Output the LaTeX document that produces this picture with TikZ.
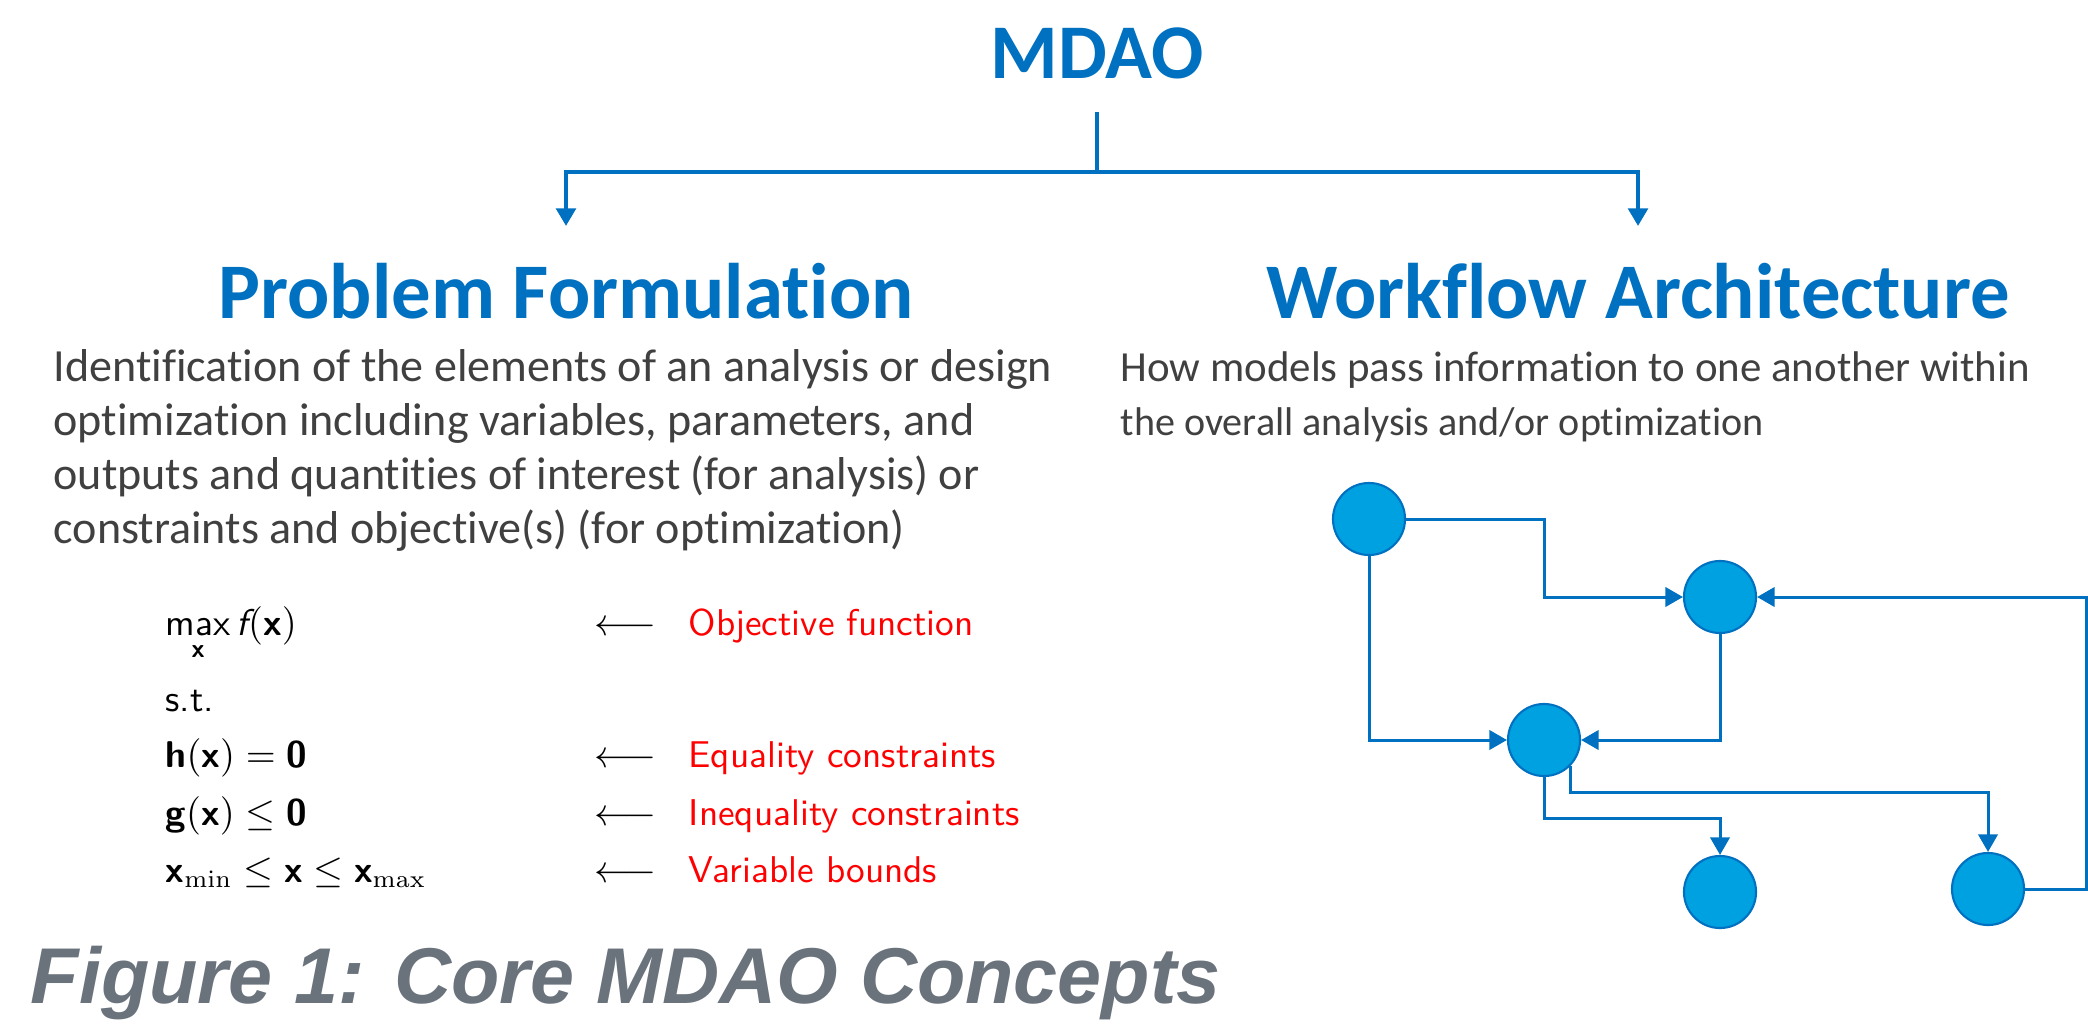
\documentclass[tikz,border=0pt]{standalone}
\usepackage{amsmath,amssymb}
\usepackage[no-math]{fontspec}
\setmainfont{Carlito}[Ligatures=NoCommon]
\newfontfamily\capfont{Liberation Sans}
\usepackage{xcolor}
\usetikzlibrary{positioning,calc,arrows.meta}

\definecolor{mdaoblue}{HTML}{0070C0}
\definecolor{nodefill}{HTML}{00A1E1}
\definecolor{bodygray}{HTML}{404040}
\definecolor{capgray}{HTML}{6A737C}

\newcommand{\bx}{\textsf{\bfseries x}}
\newcommand{\bnum}{\textsf{\bfseries 0}}

\begin{document}
\begin{tikzpicture}[x=0.01cm,y=-0.01cm,
    head/.style={font=\bfseries\fontsize{22.4}{26}\selectfont, text=mdaoblue, inner sep=0pt, anchor=base},
    body/.style={font=\fontsize{13.1}{15}\selectfont, text=bodygray, inner sep=0pt, anchor=base west},
    eqn/.style={font=\sffamily\fontsize{10.6}{12}\selectfont, inner sep=0pt, anchor=base west},
    note/.style={eqn, text=red},
    trunk/.style={draw=mdaoblue, line width=1.2pt},
    branch/.style={trunk, -{Triangle[length=5pt,width=5.5pt]}},
    model/.style={circle, minimum size=0.72cm, inner sep=0pt, fill=nodefill, draw=mdaoblue, line width=0.6pt},
    flow/.style={draw=mdaoblue, line width=0.85pt, -{Triangle[length=5pt,width=5.5pt]}}
]
    \useasboundingbox (0,0) rectangle (2088,1024);
    \clip (0,0) rectangle (2088,1024);

    % Titles
    \node[head, font=\bfseries\fontsize{22}{26}\selectfont] (mdao) at (1097,78) {MDAO};
    \node[head] (pf) at (566,318) {Problem Formulation};
    \node[head] (wa) at (1638,318) {Workflow Architecture};

    % Tree
    \coordinate (fork) at (1097,172);
    \draw[trunk, shorten <=0.34cm] (mdao.base) -- (fork);
    \draw[branch, shorten >=0.36cm] (fork) -| (pf.north);
    \draw[branch, shorten >=0.36cm] (fork) -| (wa.north);

    % Descriptions
    \foreach \txt [count=\i] in {{Identification of the elements of an analysis or design},
        {optimization including variables, parameters, and},
        {outputs and quantities of interest (for analysis) or},
        {constraints and objective(s) (for optimization)}}
        \node[body] (pf\i) at (53,327+54*\i) {\txt};
    \node[body, font=\fontsize{12.2}{14}\selectfont] (wa1) at (1120,381) {How models pass information to one another within};
    \node[body, font=\fontsize{11.4}{13}\selectfont] (wa2) at (1120,435) {the overall analysis and/or optimization};

    % Optimization problem
    \node[eqn] (obj) at (165,635) {$\mathop{\textsf{max}}\limits_{\bx} \textsf{\itshape f}(\bx)$};
    \node[eqn] (st) at (165,711) {s.t.};
    \node[eqn] (eq) at (165,767) {$\textsf{\bfseries h}(\bx) = \bnum$};
    \node[eqn] (ineq) at (165,825) {$\textsf{\bfseries g}(\bx) \leq \bnum$};
    \node[eqn] (bnd) at (165,882) {$\bx_{\mathrm{min}} \leq \bx \leq \bx_{\mathrm{max}}$};
    \foreach \y/\lbl [count=\i] in {635/Objective function, 767/Equality constraints,
        825/Inequality constraints, 882/Variable bounds} {
        \node[eqn] (arr\i) at (594,\y) {$\longleftarrow$};
        \node[note] (lbl\i) at (688,\y) {\lbl};
    }

    % Workflow graph
    \node[model] (A) at (1369,519) {};
    \node[model] (B) at (1720,597) {};
    \node[model] (C) at (1544,740) {};
    \node[model] (D) at (1720,892) {};
    \node[model] (E) at (1988,889) {};

    \draw[flow] (A.east) -- (A -| C) -- (C |- B) -- (B.west);
    \draw[flow] (A.south) -- (A |- C) -- (C.west);
    \draw[flow] (B.south) -- (B |- C) -- (C.east);
    \draw[flow] (C.south) -- ++(0,41) -| (D.north);
    \draw[flow] (C.-45) -- ++(0,26) -| (E.north);
    \draw[flow] (E.east) -- ++(61,0) |- (B.east);

    % Caption
    \node[inner sep=0pt, anchor=base west, text=capgray,
        font=\capfont\bfseries\itshape\fontsize{22.5}{26}\selectfont] (cap) at (30,1003)
        {Figure 1: Core MDAO Concepts};
\end{tikzpicture}
\end{document}
